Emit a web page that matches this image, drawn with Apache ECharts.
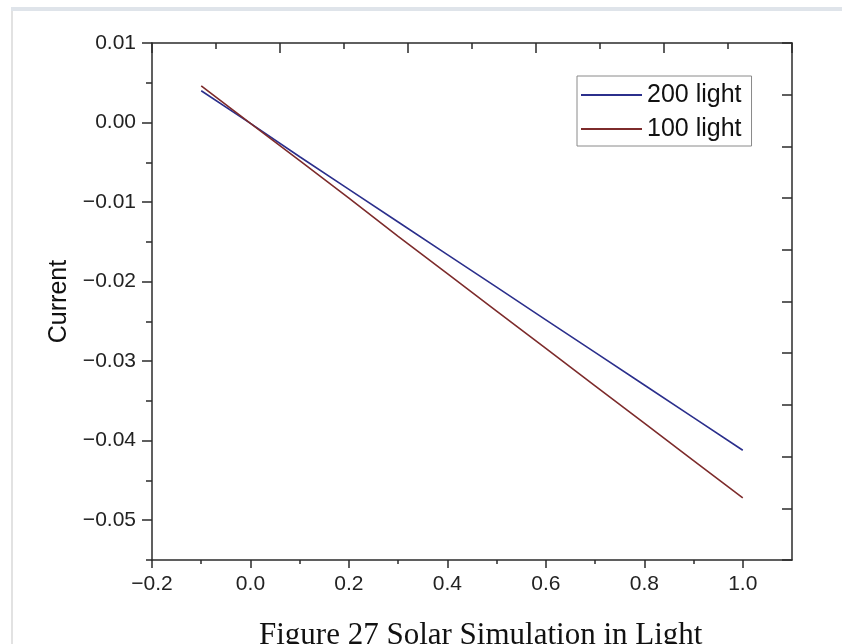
<!DOCTYPE html>
<html>
<head>
<meta charset="utf-8">
<script src="https://cdn.jsdelivr.net/npm/echarts@6/dist/echarts.min.js"></script>
<style>
html, body { margin: 0; padding: 0; background: #fff; }
#chart { width: 842px; height: 644px; }
</style>
</head>
<body>
<div id="chart"></div>
<script>
// values
var voltage = [-0.1, 0.0, 0.1, 0.2, 0.3, 0.4, 0.5, 0.6, 0.7, 0.8, 0.9, 1.0];
var light200 = [0.0040, -0.0001, -0.0043, -0.0084, -0.0125, -0.0166, -0.0207, -0.0248, -0.0289, -0.0330, -0.0371, -0.0412];
var light100 = [0.0046, -0.0001, -0.0048, -0.0095, -0.0143, -0.0190, -0.0237, -0.0284, -0.0331, -0.0378, -0.0425, -0.0472];
var seriesNames = ['200 light', '100 light'];

var xMajor = [-0.2, 0.0, 0.2, 0.4, 0.6, 0.8, 1.0];
var xMinor = [-0.1, 0.1, 0.3, 0.5, 0.7, 0.9];
var yMajor = [-0.05, -0.04, -0.03, -0.02, -0.01, 0.00, 0.01];
var yMinor = [-0.055, -0.045, -0.035, -0.025, -0.015, -0.005, 0.005];

var caption = 'Figure 27 Solar Simulation in Light';

var axisColor = '#2b2b2b';
var font = 'Liberation Sans, Arial, sans-serif';

function minus(v, d) {
    return (v < -1e-9 ? '\u2212' : '') + Math.abs(v).toFixed(d);
}
function pairs(ys) {
    return voltage.map(function (v, i) { return [v, ys[i]]; });
}

var chart = echarts.init(document.getElementById('chart'));

var tickStyle = { color: axisColor, width: 1.5 };

var option = {
    animation: false,
    backgroundColor: '#fff',
    grid: [
        { left: 152, right: 50, top: 43, bottom: 84 },
        { left: 152, right: 50, top: 43, bottom: 84 }
    ],
    legend: {
        data: seriesNames,
        orient: 'vertical',
        left: 577,
        top: 76,
        icon: 'rect',
        itemWidth: 61,
        itemHeight: 2,
        itemGap: 4,
        padding: [4, 10, 2, 4],
        borderColor: '#8a8a8a',
        borderWidth: 1,
        backgroundColor: '#fff',
        textStyle: { fontFamily: font, fontSize: 25, color: '#111', lineHeight: 30 }
    },
    xAxis: [
        {
            gridIndex: 0, type: 'value', position: 'bottom',
            min: -0.2, max: 1.1,
            splitLine: { show: false },
            axisLine: { onZero: false, lineStyle: tickStyle },
            axisTick: { customValues: xMajor, length: 8, lineStyle: tickStyle },
            axisLabel: {
                customValues: xMajor, margin: 14,
                fontFamily: font, fontSize: 21, color: '#222',
                formatter: function (v) { return minus(v, 1); }
            }
        },
        {
            gridIndex: 0, type: 'value', position: 'top',
            min: 0, max: 10, interval: 2,
            splitLine: { show: false },
            axisLine: { onZero: false, lineStyle: tickStyle },
            axisTick: { inside: true, length: 10, lineStyle: tickStyle },
            minorTick: { show: true, splitNumber: 2, length: 6, lineStyle: tickStyle },
            axisLabel: { show: false }
        },
        {
            gridIndex: 1, type: 'value', position: 'bottom',
            min: -0.2, max: 1.1,
            splitLine: { show: false },
            axisLine: { show: false, onZero: false },
            axisTick: { customValues: xMinor, length: 4, lineStyle: tickStyle },
            axisLabel: { show: false }
        }
    ],
    yAxis: [
        {
            gridIndex: 0, type: 'value', position: 'left',
            min: -0.055, max: 0.01,
            name: 'Current', nameLocation: 'middle', nameGap: 80, nameRotate: 90,
            nameTextStyle: { fontFamily: font, fontSize: 25, color: '#111' },
            splitLine: { show: false },
            axisLine: { onZero: false, lineStyle: tickStyle },
            axisTick: { customValues: yMajor, length: 10, lineStyle: tickStyle },
            axisLabel: {
                customValues: yMajor, margin: 16,
                fontFamily: font, fontSize: 21, color: '#222',
                formatter: function (v) { return minus(v, 2); }
            }
        },
        {
            gridIndex: 0, type: 'value', position: 'right',
            min: 0, max: 10, interval: 1,
            splitLine: { show: false },
            axisLine: { onZero: false, lineStyle: tickStyle },
            axisTick: { inside: true, length: 10, lineStyle: tickStyle },
            axisLabel: { show: false }
        },
        {
            gridIndex: 1, type: 'value', position: 'left',
            min: -0.055, max: 0.01,
            splitLine: { show: false },
            axisLine: { show: false, onZero: false },
            axisTick: { customValues: yMinor, length: 6, lineStyle: tickStyle },
            axisLabel: { show: false }
        }
    ],
    series: [
        {
            name: seriesNames[0], type: 'line', xAxisIndex: 0, yAxisIndex: 0,
            data: pairs(light200), showSymbol: false, symbol: 'none',
            color: '#2b2f8c', lineStyle: { width: 1.6, color: '#2b2f8c' }
        },
        {
            name: seriesNames[1], type: 'line', xAxisIndex: 0, yAxisIndex: 0,
            data: pairs(light100), showSymbol: false, symbol: 'none',
            color: '#7d2b2b', lineStyle: { width: 1.6, color: '#7d2b2b' }
        }
    ],
    graphic: [
        { type: 'rect', left: 11, top: 7, shape: { width: 831, height: 4 }, style: { fill: '#dfe4ea' }, silent: true },
        { type: 'rect', left: 11, top: 11, shape: { width: 2, height: 633 }, style: { fill: '#e2e2e2' }, silent: true },
        {
            type: 'text', left: 259, top: 620,
            style: { text: caption, font: '31px "Liberation Serif", "Times New Roman", serif', fill: '#111' },
            silent: true
        }
    ]
};

chart.setOption(option);
</script>
</body>
</html>
